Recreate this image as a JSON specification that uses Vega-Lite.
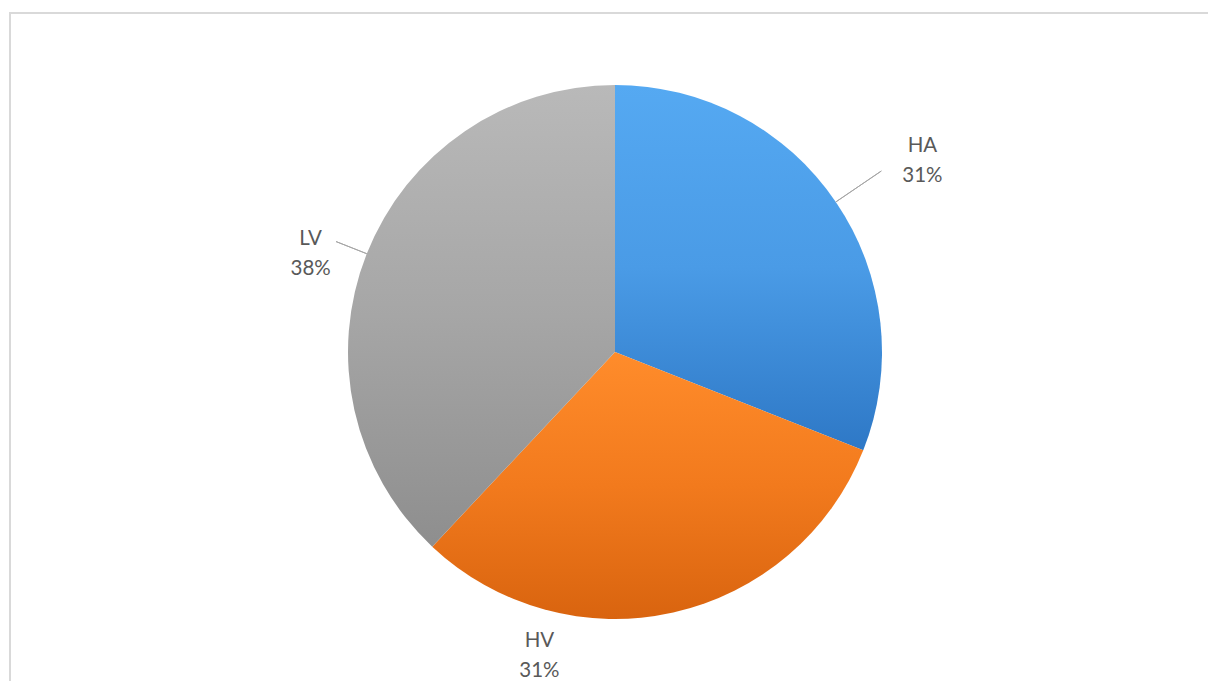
{
  "$schema": "https://vega.github.io/schema/vega-lite/v6.json",
  "width": 1198,
  "height": 669,
  "autosize": {"type": "none"},
  "padding": {"left": 10, "top": 13, "right": 0, "bottom": 0},
  "background": "white",
  "config": {"view": {"stroke": null}},
  "data": {"values": [
    {"cat": "HA", "value": 31},
    {"cat": "HV", "value": 31},
    {"cat": "LV", "value": 38}
  ]},
  "transform": [
    {"stack": "value", "groupby": [], "sort": [{"field": "cat", "order": "ascending"}], "as": ["v0", "v1"]},
    {"calculate": "(datum.v0 + datum.v1) / 2", "as": "mid"},
    {"calculate": "datum.cat + '\\n' + datum.value + '%'", "as": "lab"}
  ],
  "layer": [
    {
      "mark": {"type": "rect", "fillOpacity": 0, "stroke": "#D9D9D9", "strokeWidth": 2, "xOffset": 20},
      "encoding": {}
    },
    {
      "transform": [{"filter": "datum.cat === 'HA'"}],
      "mark": {"type": "arc", "radius": 267, "xOffset": 6, "yOffset": 4.5, "fill": {"gradient": "linear", "x1": 0, "y1": 0, "x2": 0, "y2": 1, "stops": [{"offset": 0, "color": "#55A9F2"}, {"offset": 0.5, "color": "#4A9BE6"}, {"offset": 1, "color": "#2E78C6"}]}},
      "encoding": {
        "theta": {"field": "v0", "type": "quantitative", "stack": null, "scale": {"domain": [0, 100]}},
        "theta2": {"field": "v1"}
      }
    },
    {
      "transform": [{"filter": "datum.cat === 'HV'"}],
      "mark": {"type": "arc", "radius": 267, "xOffset": 6, "yOffset": 4.5, "fill": {"gradient": "linear", "x1": 0, "y1": 0, "x2": 0, "y2": 1, "stops": [{"offset": 0, "color": "#FF8C2B"}, {"offset": 0.5, "color": "#F27A1D"}, {"offset": 1, "color": "#D9640F"}]}},
      "encoding": {
        "theta": {"field": "v0", "type": "quantitative", "stack": null, "scale": {"domain": [0, 100]}},
        "theta2": {"field": "v1"}
      }
    },
    {
      "transform": [{"filter": "datum.cat === 'LV'"}],
      "mark": {"type": "arc", "radius": 267, "xOffset": 6, "yOffset": 4.5, "fill": {"gradient": "linear", "x1": 0, "y1": 0, "x2": 0, "y2": 1, "stops": [{"offset": 0, "color": "#B9B9B9"}, {"offset": 0.5, "color": "#A6A6A6"}, {"offset": 1, "color": "#8E8E8E"}]}},
      "encoding": {
        "theta": {"field": "v0", "type": "quantitative", "stack": null, "scale": {"domain": [0, 100]}},
        "theta2": {"field": "v1"}
      }
    },
    {
      "transform": [{"filter": "datum.cat === 'HA'"}],
      "mark": {"type": "arc", "radius": 322, "radius2": 267, "xOffset": 6, "yOffset": 4.5, "padAngle": 3.1416, "fillOpacity": 0, "stroke": "#A6A6A6", "strokeWidth": 1},
      "encoding": {
        "theta": {"field": "v0", "type": "quantitative", "stack": null, "scale": {"domain": [0, 100]}},
        "theta2": {"field": "v1"}
      }
    },
    {
      "transform": [{"filter": "datum.cat === 'LV'"}],
      "mark": {"type": "arc", "radius": 300, "radius2": 267, "xOffset": 6, "yOffset": 4.5, "padAngle": 3.1416, "fillOpacity": 0, "stroke": "#A6A6A6", "strokeWidth": 1},
      "encoding": {
        "theta": {"field": "v0", "type": "quantitative", "stack": null, "scale": {"domain": [0, 100]}},
        "theta2": {"field": "v1"}
      }
    },
    {
      "transform": [{"filter": "datum.cat === 'HA'"}],
      "mark": {"type": "text", "radius": 362, "dx": 14, "dy": 1.5, "font": "Lato", "fontSize": 20.5, "fill": "#595959", "lineBreak": "\n", "lineHeight": 30, "align": "center", "baseline": "middle"},
      "encoding": {
        "theta": {"field": "mid", "type": "quantitative", "stack": null, "scale": {"domain": [0, 100]}},
        "text": {"field": "lab"}
      }
    },
    {
      "transform": [{"filter": "datum.cat === 'LV'"}],
      "mark": {"type": "text", "radius": 322, "dx": 1, "dy": 10.5, "font": "Lato", "fontSize": 20.5, "fill": "#595959", "lineBreak": "\n", "lineHeight": 30, "align": "center", "baseline": "middle"},
      "encoding": {
        "theta": {"field": "mid", "type": "quantitative", "stack": null, "scale": {"domain": [0, 100]}},
        "text": {"field": "lab"}
      }
    },
    {
      "transform": [{"filter": "datum.cat === 'HV'"}],
      "mark": {"type": "text", "radius": 300, "dx": -135, "dy": 0.5, "font": "Lato", "fontSize": 20.5, "fill": "#595959", "lineBreak": "\n", "lineHeight": 30, "align": "center", "baseline": "middle"},
      "encoding": {
        "theta": {"field": "mid", "type": "quantitative", "stack": null, "scale": {"domain": [0, 100]}},
        "text": {"field": "lab"}
      }
    }
  ]
}
